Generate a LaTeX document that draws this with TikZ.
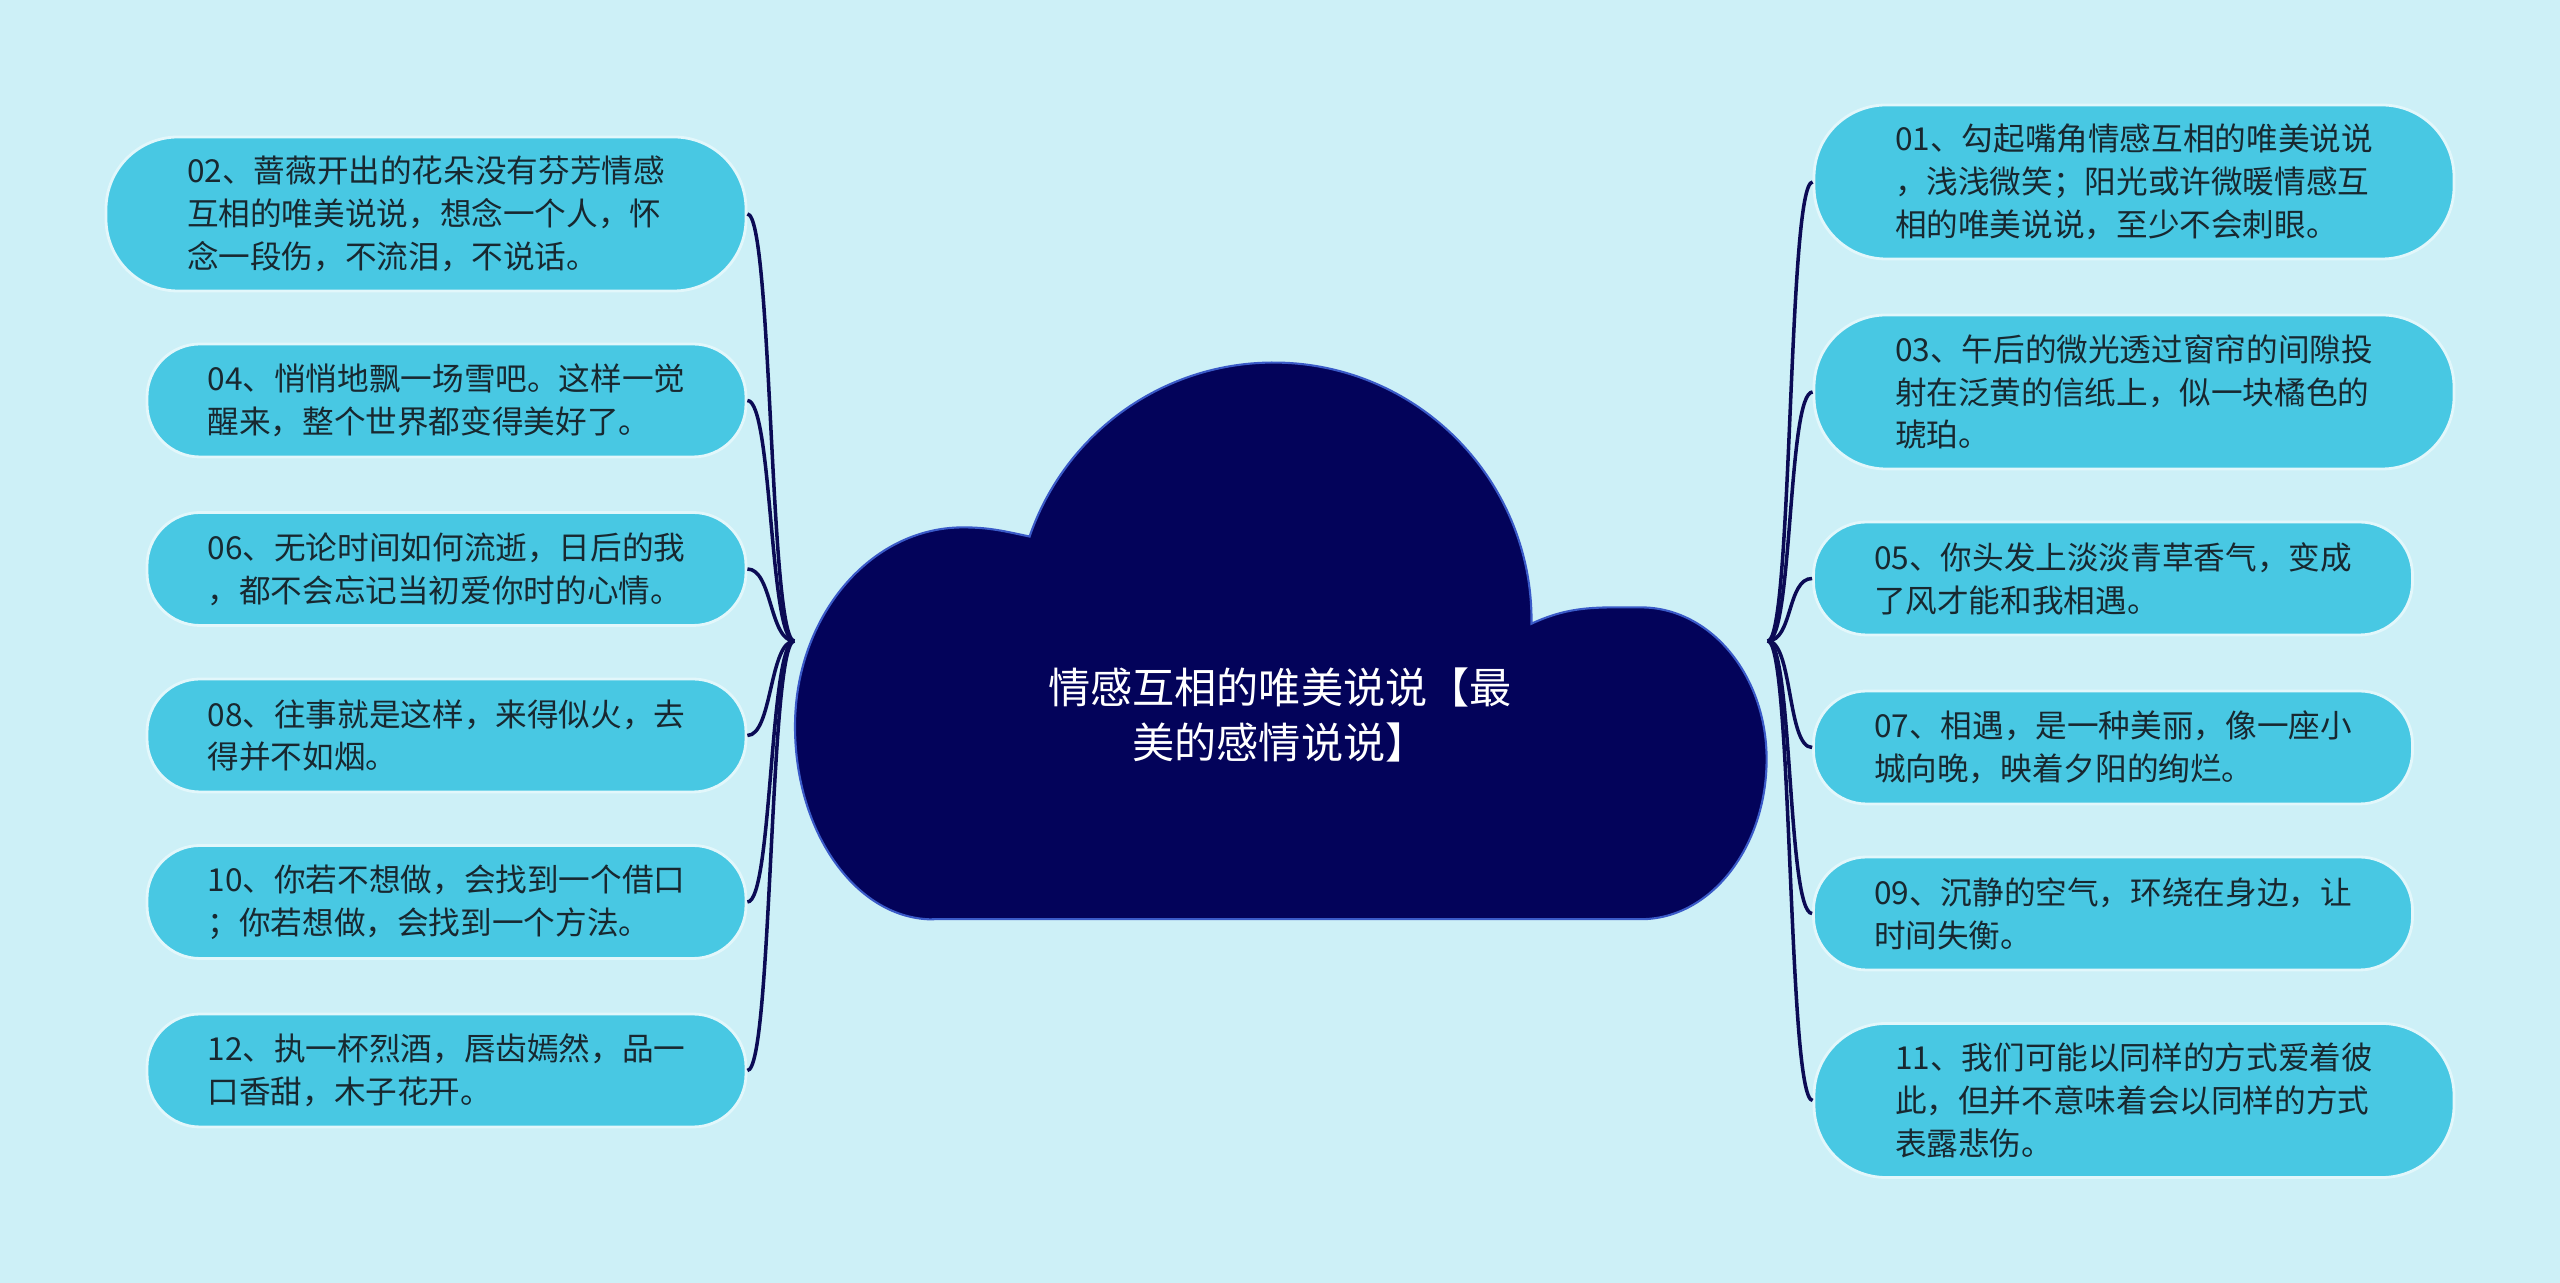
\documentclass[tikz,border=0pt]{standalone}
\usepackage{fontspec}
\newfontfamily\cjk{Noto Sans CJK SC}
\usetikzlibrary{positioning}
\definecolor{bgcyan}{HTML}{CDF0F7}
\definecolor{leafblue}{HTML}{48C8E3}
\definecolor{leafedge}{HTML}{E2F7FB}
\definecolor{leaftext}{HTML}{182830}
\definecolor{cloudnavy}{HTML}{03035A}
\definecolor{cloudedge}{HTML}{3A5AC8}
\definecolor{linknavy}{HTML}{0B0B55}

\begin{document}
\begin{tikzpicture}[
    leaf/.style={rectangle, draw=leafedge, line width=0.8pt, fill=leafblue, text=leaftext,
      align=left, inner sep=0pt, font=\cjk\fontsize{9}{12.2}\selectfont},
    leafwide/.style={leaf, minimum width=6.40cm, minimum height=1.54cm, rounded corners=0.72cm},
    leafshort/.style={leaf, minimum width=5.99cm, minimum height=1.13cm, rounded corners=0.53cm},
    link/.style={draw=linknavy, line width=1pt},
  ]
  \fill[bgcyan] (0,0) rectangle (25.6,-12.83);
  \useasboundingbox (0,0) rectangle (25.6,-12.83);

  \node[minimum width=9.72cm, minimum height=5.57cm, inner sep=0pt] (cloud) at (12.81,-6.41) {};
  \filldraw[fill=cloudnavy, draw=cloudedge, line width=0.6pt]
    (9.33,-9.192) -- (16.409,-9.192)
    arc[start angle=270, end angle=360, x radius=1.257cm, y radius=1.600cm]
    arc[start angle=0, end angle=90, x radius=1.257cm, y radius=1.518cm]
    to[out=180, in=25] (15.315,-6.237)
    arc[start angle=-0.7, end angle=161, radius=2.58cm]
    to[out=168, in=0] (9.63,-5.274)
    arc[start angle=90, end angle=180, x radius=1.68cm, y radius=1.99cm]
    arc[start angle=180, end angle=270, x radius=1.38cm, y radius=1.93cm]
    -- cycle;
  \node[text=white, align=center, font=\cjk\fontsize{12}{15.7}\selectfont] (title) at (12.80,-7.15)
    {情感互相的唯美说说【最\\美的感情说说】};

  \node[leafwide]  (t02) at (4.26,-2.14)   {02、蔷薇开出的花朵没有芬芳情感\\互相的唯美说说，想念一个人，怀\\念一段伤，不流泪，不说话。};
  \node[leafshort] (t04) at (4.465,-4.005) {04、悄悄地飘一场雪吧。这样一觉\\醒来，整个世界都变得美好了。};
  \node[leafshort] (t06) at (4.465,-5.69)  {06、无论时间如何流逝，日后的我\\，都不会忘记当初爱你时的心情。};
  \node[leafshort] (t08) at (4.465,-7.355) {08、往事就是这样，来得似火，去\\得并不如烟。};
  \node[leafshort] (t10) at (4.465,-9.02)  {10、你若不想做，会找到一个借口\\；你若想做，会找到一个方法。};
  \node[leafshort] (t12) at (4.465,-10.705) {12、执一杯烈酒，唇齿嫣然，品一\\口香甜，木子花开。};

  \node[leafwide]  (t01) at (21.34,-1.82)  {01、勾起嘴角情感互相的唯美说说\\，浅浅微笑；阳光或许微暖情感互\\相的唯美说说，至少不会刺眼。};
  \node[leafwide]  (t03) at (21.34,-3.92)  {03、午后的微光透过窗帘的间隙投\\射在泛黄的信纸上，似一块橘色的\\琥珀。};
  \node[leafshort] (t05) at (21.13,-5.785) {05、你头发上淡淡青草香气，变成\\了风才能和我相遇。};
  \node[leafshort] (t07) at (21.13,-7.475) {07、相遇，是一种美丽，像一座小\\城向晚，映着夕阳的绚烂。};
  \node[leafshort] (t09) at (21.13,-9.135) {09、沉静的空气，环绕在身边，让\\时间失衡。};
  \node[leafwide]  (t11) at (21.34,-11.005) {11、我们可能以同样的方式爱着彼\\此，但并不意味着会以同样的方式\\表露悲伤。};

  \draw[link] (cloud.west) .. controls +(-0.25,0) and +(0.25,0) .. (t02.east);
  \draw[link] (cloud.west) .. controls +(-0.25,0) and +(0.25,0) .. (t04.east);
  \draw[link] (cloud.west) .. controls +(-0.25,0) and +(0.25,0) .. (t06.east);
  \draw[link] (cloud.west) .. controls +(-0.25,0) and +(0.25,0) .. (t08.east);
  \draw[link] (cloud.west) .. controls +(-0.25,0) and +(0.25,0) .. (t10.east);
  \draw[link] (cloud.west) .. controls +(-0.25,0) and +(0.25,0) .. (t12.east);
  \draw[link] (cloud.east) .. controls +(0.25,0) and +(-0.25,0) .. (t01.west);
  \draw[link] (cloud.east) .. controls +(0.25,0) and +(-0.25,0) .. (t03.west);
  \draw[link] (cloud.east) .. controls +(0.25,0) and +(-0.25,0) .. (t05.west);
  \draw[link] (cloud.east) .. controls +(0.25,0) and +(-0.25,0) .. (t07.west);
  \draw[link] (cloud.east) .. controls +(0.25,0) and +(-0.25,0) .. (t09.west);
  \draw[link] (cloud.east) .. controls +(0.25,0) and +(-0.25,0) .. (t11.west);
\end{tikzpicture}
\end{document}
